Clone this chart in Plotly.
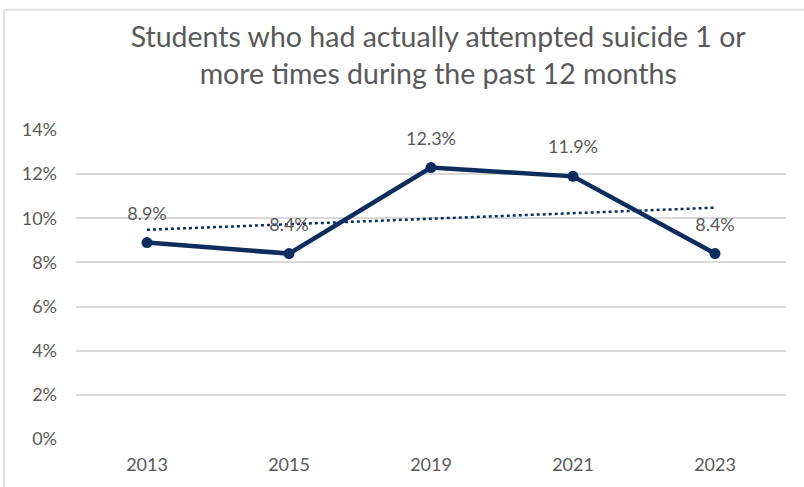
import numpy as np
import plotly.graph_objects as go

years = ["2013", "2015", "2019", "2021", "2023"]
pct = [8.9, 8.4, 12.3, 11.9, 8.4]
y_ticks = [0, 2, 4, 6, 8, 10, 12, 14]
title_text = "Students who had actually attempted suicide 1 or<br>more times during the past 12 months"

NAVY = "#0E2D5E"
GRID = "#D9D9D9"
TXT = "#595959"
FONT = "Lato, Liberation Sans, Arial"

# linear trend over category index, like a spreadsheet trendline
idx = np.arange(1, len(pct) + 1)
slope, intercept = np.polyfit(idx, pct, 1)
trend = list(slope * idx + intercept)

fig = go.Figure()
fig.add_trace(go.Scatter(
    x=years, y=trend, mode="lines",
    line=dict(color=NAVY, width=2.5, dash="dot"),
    hoverinfo="skip", showlegend=False,
))
fig.add_trace(go.Scatter(
    x=years, y=pct, mode="lines+markers",
    line=dict(color=NAVY, width=4.5),
    marker=dict(color=NAVY, size=11),
    showlegend=False,
))
# value labels: an invisible, oversized marker pushes each label above its point
fig.add_trace(go.Scatter(
    x=years, y=pct, mode="markers+text",
    marker=dict(color="rgba(0,0,0,0)", size=28),
    text=[f"{v:.1f}%" for v in pct],
    textposition="top center",
    textfont=dict(family=FONT, size=18, color=TXT),
    hoverinfo="skip", showlegend=False,
))

W, H = 804, 487
ml, mr, mt, mb = 76, 18, 130, 45
pw, ph = W - ml - mr, H - mt - mb

def px_x(x):
    return (x - ml) / pw

def px_y(y):
    return (H - mb - y) / ph

fig.update_layout(
    width=W, height=H,
    margin=dict(l=ml, r=mr, t=mt, b=mb),
    paper_bgcolor="white", plot_bgcolor="white",
    title=dict(text=title_text, x=0.545, xanchor="center", y=0.903, yanchor="top",
               font=dict(family=FONT, size=28.5, color=TXT)),
    xaxis=dict(type="category", range=[-0.5, len(years) - 0.5],
               showgrid=False, showline=False, zeroline=False,
               tickfont=dict(family=FONT, size=18, color=TXT), ticks="",
               ticklabelstandoff=13),
    yaxis=dict(range=[0, 14], tickvals=y_ticks, ticktext=[f"{v}%" for v in y_ticks],
               showgrid=True, gridcolor=GRID, gridwidth=1.5, zeroline=False,
               showline=False, tickfont=dict(family=FONT, size=18, color=TXT),
               ticks="", ticklabelstandoff=18),
    shapes=[
        dict(type="rect", xref="paper", yref="paper",
             x0=px_x(4), x1=px_x(W + 5), y0=px_y(H + 5), y1=px_y(8.5),
             line=dict(color=GRID, width=1.5), fillcolor="rgba(0,0,0,0)"),
    ],
)

fig.write_html("out.html")
